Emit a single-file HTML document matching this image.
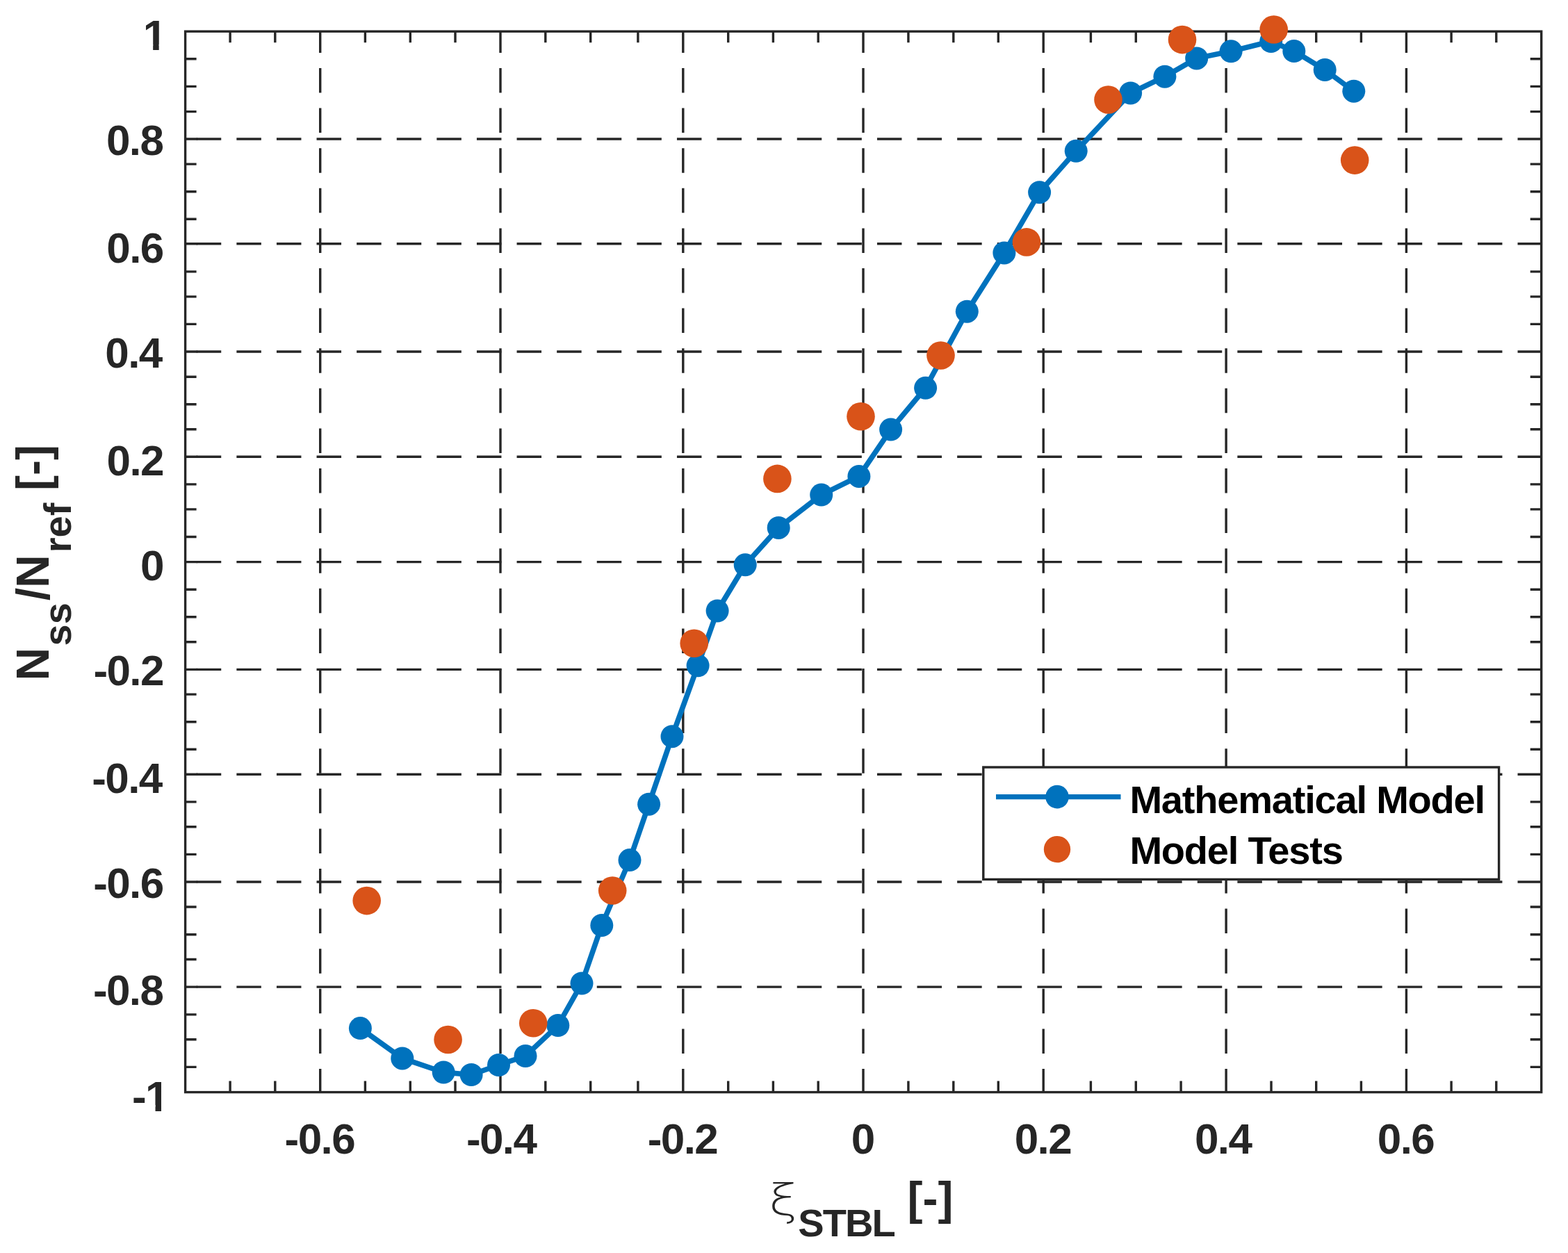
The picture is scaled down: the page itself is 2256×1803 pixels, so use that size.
<!DOCTYPE html><html><head><meta charset="utf-8"><title>Nss/Nref vs xi STBL</title><style>html,body{margin:0;padding:0;background:#fff;overflow:hidden}svg{display:block}</style></head><body>
<svg width="2256" height="1803" viewBox="0 0 2256 1803">
<rect x="0" y="0" width="2256" height="1803" fill="#fff"/>
<g stroke="#262626" stroke-width="3.4" fill="none" stroke-dasharray="35.5 22.1">
<line x1="266.6" y1="200.0" x2="2217.7" y2="200.0" stroke-dashoffset="41.45"/>
<line x1="266.6" y1="350.8" x2="2217.7" y2="350.8" stroke-dashoffset="41.45"/>
<line x1="266.6" y1="506.0" x2="2217.7" y2="506.0" stroke-dashoffset="41.45"/>
<line x1="266.6" y1="657.3" x2="2217.7" y2="657.3" stroke-dashoffset="41.45"/>
<line x1="266.6" y1="808.6" x2="2217.7" y2="808.6" stroke-dashoffset="41.45"/>
<line x1="266.6" y1="963.4" x2="2217.7" y2="963.4" stroke-dashoffset="41.45"/>
<line x1="266.6" y1="1114.3" x2="2217.7" y2="1114.3" stroke-dashoffset="41.45"/>
<line x1="266.6" y1="1269.0" x2="2217.7" y2="1269.0" stroke-dashoffset="41.45"/>
<line x1="266.6" y1="1420.1" x2="2217.7" y2="1420.1" stroke-dashoffset="41.45"/>
<line x1="460.7" y1="45.2" x2="460.7" y2="1571.6" stroke-dashoffset="4.80"/>
<line x1="720.0" y1="45.2" x2="720.0" y2="1571.6" stroke-dashoffset="4.80"/>
<line x1="982.8" y1="45.2" x2="982.8" y2="1571.6" stroke-dashoffset="4.80"/>
<line x1="1242.0" y1="45.2" x2="1242.0" y2="1571.6" stroke-dashoffset="4.80"/>
<line x1="1501.2" y1="45.2" x2="1501.2" y2="1571.6" stroke-dashoffset="4.80"/>
<line x1="1764.1" y1="45.2" x2="1764.1" y2="1571.6" stroke-dashoffset="4.80"/>
<line x1="2023.4" y1="45.2" x2="2023.4" y2="1571.6" stroke-dashoffset="4.80"/>
</g>
<g stroke="#262626" stroke-width="3.4" fill="none">
<path d="M266.6 200.0h17.5M266.6 350.8h17.5M266.6 506.0h17.5M266.6 657.3h17.5M266.6 808.6h17.5M266.6 963.4h17.5M266.6 1114.3h17.5M266.6 1269.0h17.5M266.6 1420.1h17.5M266.6 84.8h16M2217.7 84.8h-16M266.6 124.4h16M2217.7 124.4h-16M266.6 160.6h16M2217.7 160.6h-16M266.6 236.1h16M2217.7 236.1h-16M266.6 275.7h16M2217.7 275.7h-16M266.6 315.3h16M2217.7 315.3h-16M266.6 390.9h16M2217.7 390.9h-16M266.6 426.9h16M2217.7 426.9h-16M266.6 466.4h16M2217.7 466.4h-16M266.6 542.2h16M2217.7 542.2h-16M266.6 581.8h16M2217.7 581.8h-16M266.6 617.7h16M2217.7 617.7h-16M266.6 696.9h16M2217.7 696.9h-16M266.6 732.9h16M2217.7 732.9h-16M266.6 772.5h16M2217.7 772.5h-16M266.6 848.2h16M2217.7 848.2h-16M266.6 887.8h16M2217.7 887.8h-16M266.6 923.8h16M2217.7 923.8h-16M266.6 999.1h16M2217.7 999.1h-16M266.6 1038.7h16M2217.7 1038.7h-16M266.6 1078.2h16M2217.7 1078.2h-16M266.6 1153.9h16M2217.7 1153.9h-16M266.6 1189.8h16M2217.7 1189.8h-16M266.6 1229.4h16M2217.7 1229.4h-16M266.6 1305.0h16M2217.7 1305.0h-16M266.6 1344.8h16M2217.7 1344.8h-16M266.6 1380.5h16M2217.7 1380.5h-16M266.6 1459.9h16M2217.7 1459.9h-16M266.6 1495.8h16M2217.7 1495.8h-16M266.6 1535.4h16M2217.7 1535.4h-16M331.1 1571.6v-16M331.1 45.2v16M395.8 1571.6v-16M395.8 45.2v16M525.4 1571.6v-16M525.4 45.2v16M590.3 1571.6v-16M590.3 45.2v16M655.0 1571.6v-16M655.0 45.2v16M784.8 1571.6v-16M784.8 45.2v16M849.7 1571.6v-16M849.7 45.2v16M917.9 1571.6v-16M917.9 45.2v16M1047.7 1571.6v-16M1047.7 45.2v16M1112.4 1571.6v-16M1112.4 45.2v16M1177.2 1571.6v-16M1177.2 45.2v16M1306.9 1571.6v-16M1306.9 45.2v16M1371.8 1571.6v-16M1371.8 45.2v16M1436.3 1571.6v-16M1436.3 45.2v16M1569.4 1571.6v-16M1569.4 45.2v16M1634.3 1571.6v-16M1634.3 45.2v16M1699.1 1571.6v-16M1699.1 45.2v16M1829.0 1571.6v-16M1829.0 45.2v16M1893.7 1571.6v-16M1893.7 45.2v16M1958.4 1571.6v-16M1958.4 45.2v16M2088.1 1571.6v-16M2088.1 45.2v16M2152.8 1571.6v-16M2152.8 45.2v16"/>
<rect x="266.6" y="45.2" width="1951.1" height="1526.4"/>
</g>
<polyline points="518.4,1479.6 578.8,1522.9 638.2,1543.0 678.1,1546.5 717.5,1532.5 756,1519.5 802.8,1475.5 837,1415 865.8,1331.5 906,1237.6 933.6,1157.2 967,1059.7 1004.1,957.8 1032.1,879 1072.2,812.8 1120.2,759.4 1181.7,712.1 1235.9,685.4 1281.6,618.1 1331.6,558.3 1391.3,448.2 1444.9,363.9 1495.6,276.7 1548.2,217.3 1626.6,134 1675.9,110.2 1721.7,83.9 1771.1,73.8 1828.7,59.5 1861.8,73.6 1906.2,100.5 1947.8,131.2" fill="none" stroke="#0072BD" stroke-width="7.6" stroke-linejoin="round" stroke-linecap="round"/>
<g fill="#0072BD"><circle cx="518.4" cy="1479.6" r="16.5"/><circle cx="578.8" cy="1522.9" r="16.5"/><circle cx="638.2" cy="1543.0" r="16.5"/><circle cx="678.1" cy="1546.5" r="16.5"/><circle cx="717.5" cy="1532.5" r="16.5"/><circle cx="756" cy="1519.5" r="16.5"/><circle cx="802.8" cy="1475.5" r="16.5"/><circle cx="837" cy="1415" r="16.5"/><circle cx="865.8" cy="1331.5" r="16.5"/><circle cx="906" cy="1237.6" r="16.5"/><circle cx="933.6" cy="1157.2" r="16.5"/><circle cx="967" cy="1059.7" r="16.5"/><circle cx="1004.1" cy="957.8" r="16.5"/><circle cx="1032.1" cy="879" r="16.5"/><circle cx="1072.2" cy="812.8" r="16.5"/><circle cx="1120.2" cy="759.4" r="16.5"/><circle cx="1181.7" cy="712.1" r="16.5"/><circle cx="1235.9" cy="685.4" r="16.5"/><circle cx="1281.6" cy="618.1" r="16.5"/><circle cx="1331.6" cy="558.3" r="16.5"/><circle cx="1391.3" cy="448.2" r="16.5"/><circle cx="1444.9" cy="363.9" r="16.5"/><circle cx="1495.6" cy="276.7" r="16.5"/><circle cx="1548.2" cy="217.3" r="16.5"/><circle cx="1626.6" cy="134" r="16.5"/><circle cx="1675.9" cy="110.2" r="16.5"/><circle cx="1721.7" cy="83.9" r="16.5"/><circle cx="1771.1" cy="73.8" r="16.5"/><circle cx="1828.7" cy="59.5" r="16.5"/><circle cx="1861.8" cy="73.6" r="16.5"/><circle cx="1906.2" cy="100.5" r="16.5"/><circle cx="1947.8" cy="131.2" r="16.5"/></g>
<g fill="#D95319"><circle cx="527.7" cy="1296.1" r="20.3"/><circle cx="644.6" cy="1496" r="20.3"/><circle cx="767.2" cy="1472.2" r="20.3"/><circle cx="881.2" cy="1281.5" r="20.3"/><circle cx="998.7" cy="925.7" r="20.3"/><circle cx="1118.4" cy="688.9" r="20.3"/><circle cx="1238.5" cy="599.3" r="20.3"/><circle cx="1353.5" cy="511.5" r="20.3"/><circle cx="1477" cy="348.4" r="20.3"/><circle cx="1594.5" cy="143.5" r="20.3"/><circle cx="1701" cy="57.1" r="20.3"/><circle cx="1832.7" cy="42.5" r="20.3"/><circle cx="1949.2" cy="230.6" r="20.3"/></g>
<g font-family="Liberation Sans, Arial, sans-serif" font-weight="bold" font-size="62" fill="#262626" letter-spacing="-1.6">
<clipPath id="c1"><rect x="0" y="0" width="260" height="63.9"/><rect x="220.17" y="62.9" width="8.51" height="12"/></clipPath>
<text x="205.7" y="72.4" clip-path="url(#c1)">1</text>
<text x="152.9" y="223.3">0.8</text>
<text x="153.3" y="377.8">0.6</text>
<text x="151.3" y="529.4">0.4</text>
<text x="153.5" y="683.6">0.2</text>
<text x="202.1" y="835.0">0</text>
<text x="134.4" y="986.4">-0.2</text>
<text x="132.3" y="1140.8">-0.4</text>
<text x="134.2" y="1292.0">-0.6</text>
<text x="133.9" y="1446.4">-0.8</text>
<clipPath id="cm1"><rect x="0" y="0" width="260" height="1590.0"/><rect x="223.52" y="1589.0" width="8.51" height="12"/></clipPath>
<text x="190.0" y="1598.5" clip-path="url(#cm1)">-1</text>
<text x="409.6" y="1659.7">-0.6</text>
<text x="670.9" y="1659.7">-0.4</text>
<text x="931.8" y="1659.7">-0.2</text>
<text x="1224.8" y="1659.7">0</text>
<text x="1459.7" y="1659.7">0.2</text>
<text x="1718.9" y="1659.7">0.4</text>
<text x="1981.8" y="1659.7">0.6</text>
</g>
<rect x="1414.8" y="1104.0" width="741.8" height="161.4" fill="#fff" stroke="#262626" stroke-width="3.4"/>
<line x1="1433" y1="1146.6" x2="1612.5" y2="1146.6" stroke="#0072BD" stroke-width="7.4"/>
<circle cx="1521" cy="1146.6" r="16.8" fill="#0072BD"/>
<circle cx="1521" cy="1222.1" r="19.2" fill="#D95319"/>
<g font-family="Liberation Sans, Arial, sans-serif" font-weight="bold" font-size="56" fill="#000" letter-spacing="-1.2">
<text x="1625.4" y="1170.1">Mathematical Model</text>
<text x="1625.4" y="1242.5">Model Tests</text>
</g>
<g font-family="Liberation Sans, Arial, sans-serif" font-weight="bold" fill="#262626">
<text x="0" y="0" transform="translate(1106.1,1747.9) scale(1.2,1)" font-family="DejaVu Sans, sans-serif" font-weight="200" font-size="63">ξ</text>
<text x="1148.2" y="1778.7" font-size="56" letter-spacing="-1.9">STBL</text>
<text x="1305.6" y="1746.8" font-size="66">[-]</text>
</g>
<g font-family="Liberation Sans, Arial, sans-serif" font-weight="bold" fill="#262626" transform="translate(70.3,979.4) rotate(-90)">
<text x="0" y="0" font-size="66">N</text>
<text x="50.0" y="31.9" font-size="56">ss</text>
<text x="115.2" y="0" font-size="66">/</text>
<text x="133.5" y="0" font-size="66">N</text>
<text x="184.2" y="31.9" font-size="56">ref</text>
<text x="273.5" y="0" font-size="66">[-]</text>
</g>
</svg></body></html>
